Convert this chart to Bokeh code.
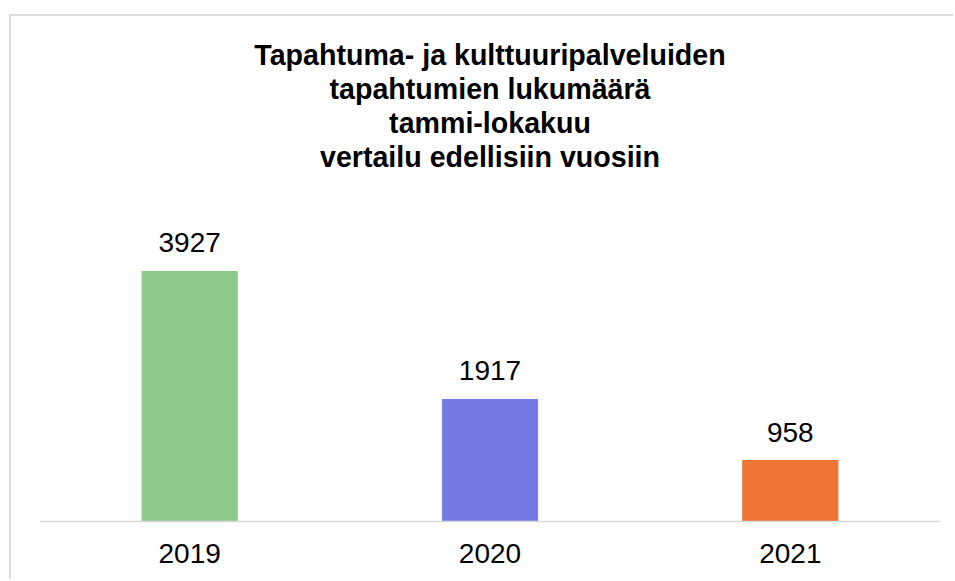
from bokeh.plotting import figure
from bokeh.models import ColumnDataSource, LabelSet, Title, Range1d
from bokeh.core.properties import value
from bokeh.embed import file_html
from bokeh.resources import INLINE

years = ["2019", "2020", "2021"]
counts = [3927, 1917, 958]
colors = ["#8CCA89", "#7479E6", "#EF7535"]
title_lines = [
    "Tapahtuma- ja kulttuuripalveluiden",
    "tapahtumien lukumäärä",
    "tammi-lokakuu",
    "vertailu edellisiin vuosiin",
]

src = ColumnDataSource(dict(years=years, counts=counts, colors=colors))

p = figure(
    x_range=years,
    y_range=Range1d(0, 5482),
    width=944,
    height=565,
    output_backend="svg",
    toolbar_location=None,
    y_axis_location=None,
    min_border_left=28,
    min_border_right=15,
    min_border_bottom=60,
    min_border_top=156,
)
p.styles = {
    "margin-left": "9px",
    "margin-top": "14px",
    "border-left": "2px solid #dedede",
    "border-top": "2px solid #dedede",
}
for line in reversed(title_lines):
    p.add_layout(Title(
        text=line,
        align="center",
        text_font="Liberation Sans",
        text_font_size="28.6px",
        text_font_style="bold",
        text_color="#000000",
        standoff=0,
    ), "above")

p.x_range.range_padding = 0
p.vbar(x="years", top="counts", width=0.317, color="colors", source=src)

labels = LabelSet(
    x="years", y="counts", text="counts", source=src,
    text_align="center", text_baseline="alphabetic", y_offset=19,
    text_font=value("Liberation Sans"), text_font_size=value("28px"),
    text_color="#000000",
)
p.add_layout(labels)

p.xgrid.visible = False
p.ygrid.visible = False
p.outline_line_color = None
p.background_fill_color = "white"
p.border_fill_color = "white"

ax = p.xaxis[0]
ax.axis_line_color = "#d9d9d9"
ax.axis_line_width = 1.5
ax.major_tick_line_color = None
ax.minor_tick_line_color = None
ax.major_label_standoff = 16
ax.major_label_text_font = "Liberation Sans"
ax.major_label_text_font_size = "28px"
ax.major_label_text_color = "#000000"

open("out.html", "w").write(file_html(p, INLINE))
